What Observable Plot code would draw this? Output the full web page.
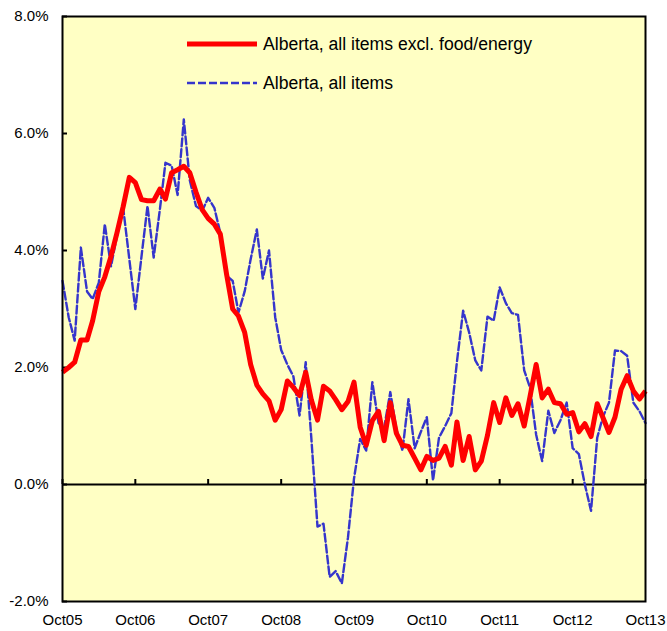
<!DOCTYPE html>
<html>
<head>
<meta charset="utf-8">
<script src="https://cdn.jsdelivr.net/npm/d3@7"></script>
<script src="https://cdn.jsdelivr.net/npm/@observablehq/plot@0.6"></script>
<style>
  html, body { margin: 0; padding: 0; background: #ffffff; }
</style>
</head>
<body>
<div id="chart"></div>
<script>
// Monthly year-over-year CPI inflation, Alberta, Oct 2005 – Oct 2013 (97 months)
const firstMonth = "2005-10";
const seriesNames = ["Alberta, all items excl. food/energy", "Alberta, all items"];
const coreValues = [
  1.92, 2.00, 2.09, 2.47, 2.47, 2.80, 3.30, 3.55, 3.90, 4.30, 4.75, 5.25,
  5.16, 4.87, 4.85, 4.85, 5.05, 4.88, 5.33, 5.38, 5.44, 5.33, 5.00, 4.70,
  4.55, 4.45, 4.28, 3.60, 3.00, 2.88, 2.60, 2.05, 1.70, 1.55, 1.43, 1.10,
  1.28, 1.77, 1.66, 1.52, 1.92, 1.45, 1.10, 1.68, 1.60, 1.45, 1.28, 1.42,
  1.75, 0.98, 0.67, 1.09, 1.25, 0.75, 1.40, 0.88, 0.67, 0.65, 0.45, 0.25,
  0.48, 0.41, 0.45, 0.65, 0.33, 1.07, 0.41, 0.82, 0.25, 0.40, 0.84, 1.40,
  1.06, 1.48, 1.18, 1.38, 1.00, 1.50, 2.05, 1.48, 1.63, 1.40, 1.38, 1.20,
  1.23, 0.90, 1.04, 0.82, 1.38, 1.15, 0.89, 1.15, 1.63, 1.86, 1.60, 1.46,
  1.60
];
const allItemsValues = [
  3.48, 2.86, 2.46, 4.05, 3.30, 3.17, 3.45, 4.45, 3.73, 4.25, 4.73, 3.85,
  3.00, 3.90, 4.76, 3.88, 4.70, 5.50, 5.45, 4.95, 6.24, 5.20, 4.76, 4.68,
  4.90, 4.73, 4.30, 3.57, 3.48, 2.94, 3.30, 3.85, 4.36, 3.52, 4.00, 2.86,
  2.30, 2.05, 1.85, 1.18, 2.09, 0.80, -0.72, -0.67, -1.58, -1.48, -1.69, -0.90,
  0.10, 0.78, 0.58, 1.75, 1.05, 0.97, 1.58, 0.95, 0.58, 1.46, 0.62, 0.90,
  1.15, 0.07, 0.80, 1.00, 1.22, 2.10, 2.97, 2.60, 2.12, 1.95, 2.87, 2.80,
  3.37, 3.10, 2.93, 2.90, 1.95, 1.66, 0.85, 0.40, 1.26, 0.88, 1.10, 1.40,
  0.62, 0.52, 0.00, -0.45, 0.80, 1.15, 1.40, 2.29, 2.28, 2.20, 1.40, 1.25,
  1.05
];
const xTickLabels = ["Oct05", "Oct06", "Oct07", "Oct08", "Oct09", "Oct10", "Oct11", "Oct12", "Oct13"];
const yTickValues = [-2, 0, 2, 4, 6, 8];

const [fy, fm] = firstMonth.split("-").map(Number);
const monthDate = (i) => new Date(Date.UTC(fy, fm - 1 + i, 1));
const coreRows = coreValues.map((v, i) => ({date: monthDate(i), value: v}));
const allRows = allItemsValues.map((v, i) => ({date: monthDate(i), value: v}));
const xTickDates = xTickLabels.map((_, k) => monthDate(12 * k));
const labelOf = new Map(xTickDates.map((d, k) => [+d, xTickLabels[k]]));

const RED = "#ff0000";
const BLUE = "#3535cc";
const FONT = "'Liberation Sans', Arial, Helvetica, sans-serif";

const chart = Plot.plot({
  width: 667,
  height: 631,
  marginLeft: 62,
  marginRight: 22,
  marginTop: 16,
  marginBottom: 30,
  style: {fontFamily: FONT, fontSize: "15px", color: "#000", background: "#ffffff", overflow: "visible"},
  x: {type: "utc", domain: [xTickDates[0], xTickDates[xTickDates.length - 1]]},
  y: {domain: [-2, 8]},
  marks: [
    Plot.frame({fill: "#ffffc4"}),
    Plot.ruleY([0], {stroke: "#000", strokeWidth: 2}),
    Plot.ruleX(xTickDates, {x: d => d, y1: 0, y2: 0, insetTop: -5, stroke: "#000", strokeWidth: 2}),
    Plot.ruleY(yTickValues, {y: d => d, x1: xTickDates[0], x2: xTickDates[0], insetRight: -5, stroke: "#000", strokeWidth: 2}),
    Plot.line(allRows, {x: "date", y: "value", stroke: BLUE, strokeWidth: 2.4, strokeDasharray: "8,3", strokeLinejoin: "round"}),
    Plot.line(coreRows, {x: "date", y: "value", stroke: RED, strokeWidth: 5, strokeLinejoin: "round", strokeLinecap: "butt"}),
    Plot.frame({stroke: "#000", strokeWidth: 2}),
    Plot.axisX(xTickDates, {tickSize: 0, tickPadding: 13, tickFormat: d => labelOf.get(+d), label: null, fontSize: 15}),
    Plot.axisY(yTickValues, {tickSize: 0, tickPadding: 14, tickFormat: d => d.toFixed(1) + "%", label: null, fontSize: 15})
  ]
});

document.getElementById("chart").appendChild(chart);

// Legend inside the plot area (top)
const svg = d3.select(chart);
const legend = svg.append("g")
  .attr("font-family", FONT)
  .attr("font-size", 17.6)
  .attr("text-anchor", "start");
const items = [
  {name: seriesNames[0], stroke: RED, width: 5, dash: null, y: 44},
  {name: seriesNames[1], stroke: BLUE, width: 2.4, dash: "8,3", y: 83}
];
for (const it of items) {
  legend.append("line")
    .attr("x1", 187).attr("x2", 257).attr("y1", it.y).attr("y2", it.y)
    .attr("stroke", it.stroke).attr("stroke-width", it.width)
    .attr("stroke-dasharray", it.dash);
  legend.append("text")
    .attr("x", 263).attr("y", it.y).attr("dy", "0.35em")
    .attr("text-anchor", "start")
    .attr("fill", "#000").text(it.name);
}
</script>
</body>
</html>
